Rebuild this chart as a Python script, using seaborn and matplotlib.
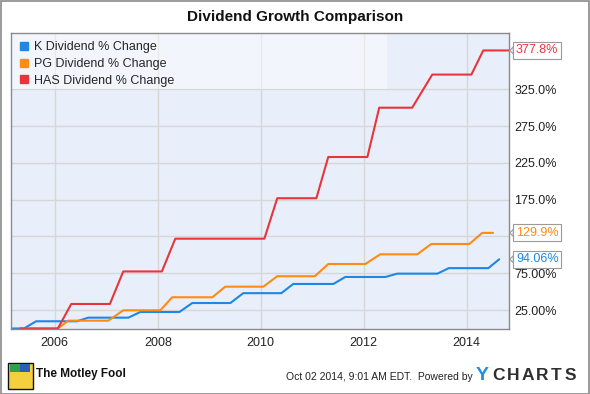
import matplotlib
matplotlib.use("Agg")
import matplotlib.pyplot as plt
import matplotlib.patches as mpatches
import pandas as pd
import seaborn as sns

# decimal-year dates and % change
K_DATES = [2005.15, 2005.40, 2005.64, 2006.43, 2006.65, 2007.43, 2007.66, 2008.42, 2008.67,
           2009.41, 2009.66, 2010.40, 2010.63, 2011.41, 2011.64, 2012.42, 2012.65,
           2013.43, 2013.65, 2014.42, 2014.63]
K_VALUES = [0, 0, 9.8, 9.8, 14.7, 14.7, 22.4, 22.4, 34.6, 34.6, 48.0, 48.0, 60.5, 60.5,
            70.0, 70.0, 74.5, 74.5, 82.0, 82.0, 94.06]

PG_DATES = [2005.33, 2006.06, 2006.26, 2007.04, 2007.33, 2008.05, 2008.28, 2009.06, 2009.31,
            2010.05, 2010.32, 2011.05, 2011.31, 2012.03, 2012.32, 2013.04, 2013.31,
            2014.05, 2014.30, 2014.51]
PG_VALUES = [0, 0, 10.6, 10.6, 24.7, 24.7, 42.4, 42.4, 56.8, 56.8, 71.0, 71.0, 87.6, 87.6,
             100.8, 100.8, 114.8, 114.8, 129.9, 129.9]

HAS_DATES = [2005.33, 2006.06, 2006.32, 2007.07, 2007.33, 2008.08, 2008.34, 2010.07, 2010.32,
             2011.08, 2011.31, 2012.07, 2012.30, 2012.94, 2013.33, 2014.09, 2014.32, 2014.82]
HAS_VALUES = [0, 0, 33.3, 33.3, 77.5, 77.5, 122, 122, 177, 177, 233, 233, 300, 300,
              345, 345, 377.8, 377.8]

SERIES = ["K Dividend % Change", "PG Dividend % Change", "HAS Dividend % Change"]
END_LABELS = ["94.06%", "129.9%", "377.8%"]
COLORS = ["#1b87e6", "#ff8a14", "#e8353b"]

Y_TICKS = [25, 75, 125, 175, 225, 275, 325]
Y_TICK_LABELS = ["25.00%", "75.00%", "", "175.0%", "225.0%", "275.0%", "325.0%"]
X_TICKS = [2006, 2008, 2010, 2012, 2014]

frames = []
for name, dates, values in zip(SERIES, [K_DATES, PG_DATES, HAS_DATES],
                               [K_VALUES, PG_VALUES, HAS_VALUES]):
    frames.append(pd.DataFrame({"date": dates, "change": values, "series": name}))
df = pd.concat(frames, ignore_index=True)

sns.set_style("white")
plt.rcParams["font.family"] = ["Liberation Sans", "DejaVu Sans"]

fig = plt.figure(figsize=(5.9, 3.94), dpi=100)
ax = fig.add_axes([11 / 590, 1 - 329 / 394, 498 / 590, 296 / 394])
ax.set_facecolor("#e9effa")

palette = dict(zip(SERIES, COLORS))
sns.lineplot(data=df, x="date", y="change", hue="series", palette=palette,
             linewidth=1.5, legend=False, sort=False, estimator=None, ax=ax)

ax.set_xlim(2005.15, 2014.82)
ax.set_ylim(-0.7, 401.5)
ax.set_xticks(X_TICKS)
ax.set_xticklabels([str(x) for x in X_TICKS])
ax.set_yticks(Y_TICKS)
ax.set_yticklabels(Y_TICK_LABELS)
ax.yaxis.tick_right()
ax.tick_params(axis="both", length=0, labelsize=9, colors="#222222")
ax.tick_params(axis="y", pad=4)
ax.tick_params(axis="x", pad=6)
ax.grid(True, color="#d6d6d6", linewidth=1)
ax.set_axisbelow(True)
for sp in ax.spines.values():
    sp.set_color("#8a8a8a")
    sp.set_linewidth(1)
ax.set_xlabel("")
ax.set_ylabel("")

# lighter legend panel
ax.add_patch(mpatches.Rectangle((0, 0.81), 0.755, 0.19, transform=ax.transAxes,
                                facecolor="white", alpha=0.45, edgecolor="none", zorder=1))
handles = [plt.Line2D([], [], marker="s", linestyle="none", color=c, markersize=6)
           for c in COLORS]
ax.legend(handles, SERIES, loc="upper left", bbox_to_anchor=(0.0, 1.0), frameon=False,
          fontsize=9, handlelength=0.8, handletextpad=0.4, labelspacing=0.38,
          borderpad=0.45, borderaxespad=0.2)

# end-value tags on the right axis, with a small pointer
for vals, label, color in zip([K_VALUES, PG_VALUES, HAS_VALUES], END_LABELS, COLORS):
    ax.annotate(label, xy=(1.0, vals[-1]), xycoords=("axes fraction", "data"),
                xytext=(5, 0), textcoords="offset points", va="center", ha="left",
                fontsize=9, color=color, annotation_clip=False, zorder=10,
                bbox=dict(boxstyle="square,pad=0.2", facecolor="white",
                          edgecolor="#9a9a9a", linewidth=0.8))
    ax.annotate("", xy=(1.0, vals[-1]), xycoords=("axes fraction", "data"),
                xytext=(3.2, 0), textcoords="offset points", annotation_clip=False,
                zorder=11,
                arrowprops=dict(arrowstyle="-|>,head_length=0.25,head_width=0.25",
                                facecolor="white", edgecolor="#9a9a9a", linewidth=0.8,
                                shrinkA=0, shrinkB=0))

fig.text(0.5, 1 - 17 / 394, "Dividend Growth Comparison", ha="center", va="center",
         fontsize=11, fontweight="bold", color="#111111")

# footer
fig.patches.append(mpatches.Rectangle((8 / 590, 1 - 389 / 394), 25 / 590, 26 / 394,
                                      transform=fig.transFigure, facecolor="#f4d03f",
                                      edgecolor="#111111", linewidth=1))
fig.patches.append(mpatches.Rectangle((10 / 590, 1 - 372 / 394), 10 / 590, 8 / 394,
                                      transform=fig.transFigure, facecolor="#2e9e4f",
                                      edgecolor="none"))
fig.patches.append(mpatches.Rectangle((20 / 590, 1 - 372 / 394), 10 / 590, 8 / 394,
                                      transform=fig.transFigure, facecolor="#2c5fb8",
                                      edgecolor="none"))
fig.text(36 / 590, 1 - 374 / 394, "The Motley Fool", ha="left", va="center",
         fontsize=8.5, fontweight="bold", color="#111111")
fig.text(473 / 590, 1 - 377 / 394, "Oct 02 2014, 9:01 AM EDT.  Powered by", ha="right",
         va="center", fontsize=7.5, color="#222222")
fig.text(476 / 590, 1 - 376 / 394, "Y", ha="left", va="center", fontsize=14,
         fontweight="bold", color="#1f8fe8")
for i, letter in enumerate("CHARTS"):
    fig.text((492 + i * 14.6) / 590, 1 - 376 / 394, letter, ha="left", va="center",
             fontsize=12.5, fontweight="bold", color="#2f2f2f")

fig.patches.append(mpatches.Rectangle((0.001, 0.001), 0.998, 0.997, transform=fig.transFigure,
                                      facecolor="none", edgecolor="#8a8a8a", linewidth=1.2))

fig.savefig("out.png", dpi=100, facecolor="white")
